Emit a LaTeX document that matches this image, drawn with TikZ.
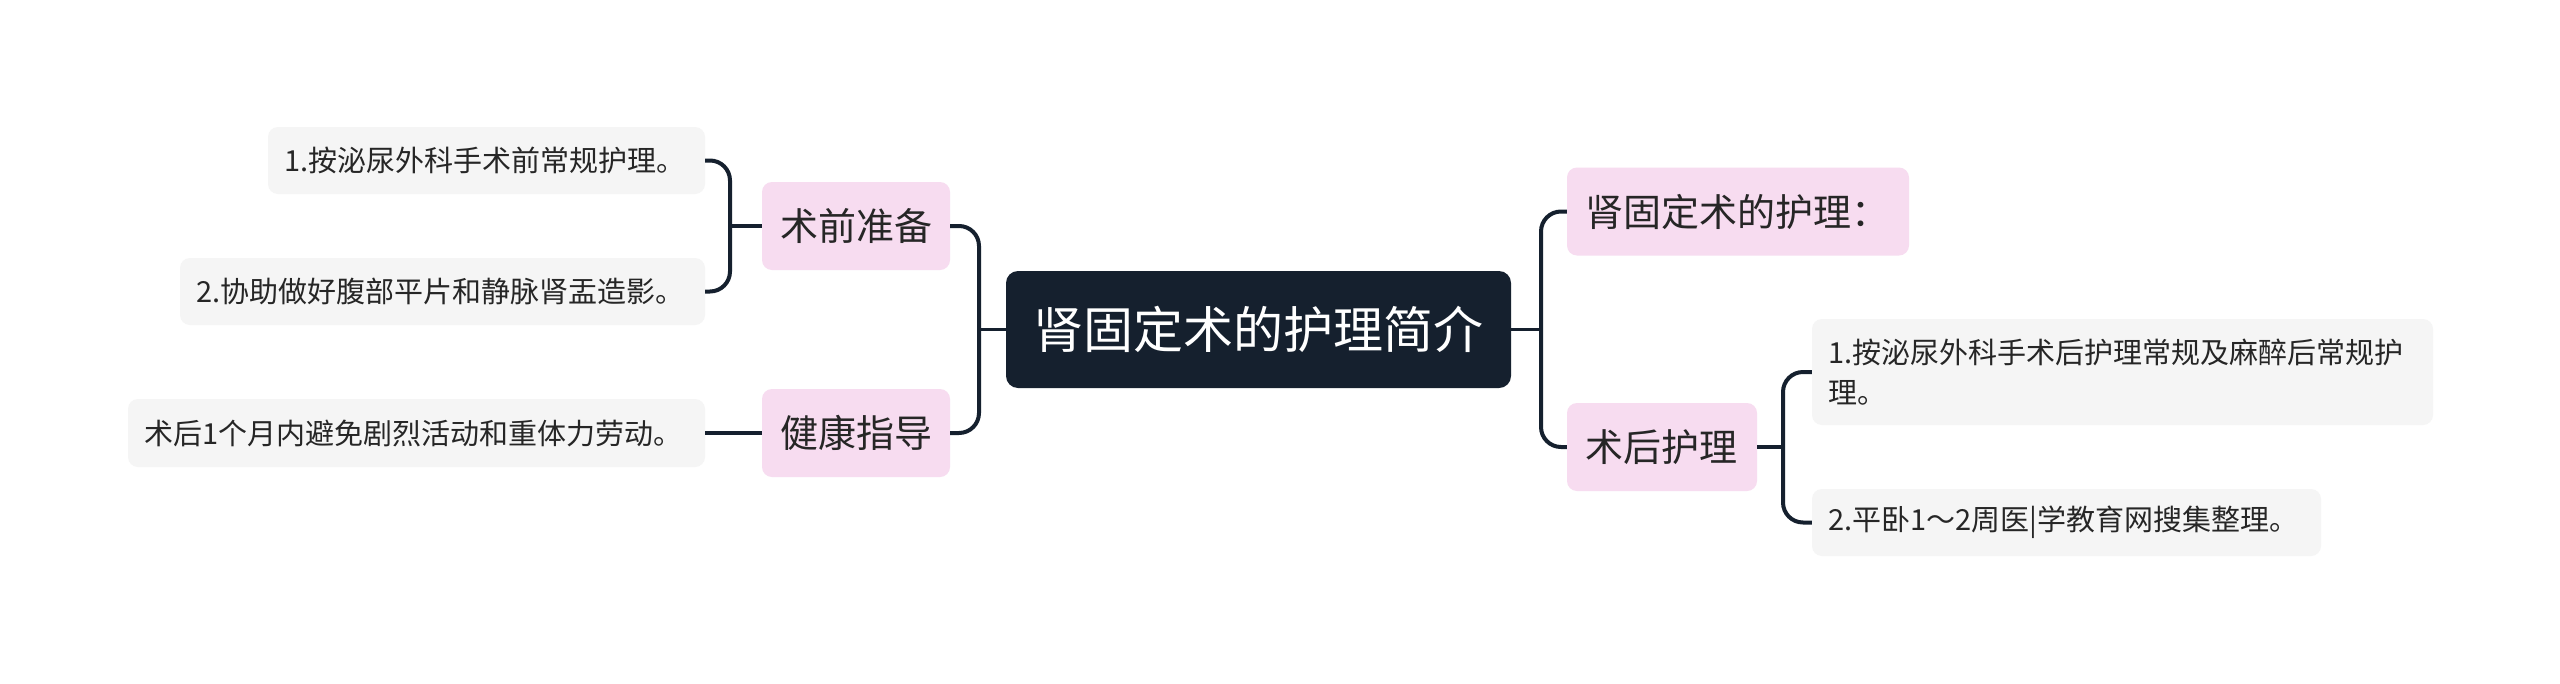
\documentclass[tikz,border=0pt]{standalone}
\usepackage{fontspec}
\setmainfont{Noto Sans CJK SC}
\definecolor{navy}{HTML}{15202E}
\definecolor{pinkbox}{HTML}{F7DCF0}
\definecolor{leafgray}{HTML}{F5F5F5}
\definecolor{txt}{HTML}{262626}
\begin{document}
\begin{tikzpicture}[x=1pt,y=-1pt,
  rootbox/.style={fill=navy, rounded corners=12pt, text=white, inner xsep=0pt, inner ysep=0pt,
    minimum width=505pt, minimum height=117pt, font=\fontsize{50}{60}\selectfont, align=center},
  branchbox/.style={fill=pinkbox, rounded corners=10pt, text=txt, inner xsep=18pt, inner ysep=0pt,
    minimum height=88pt, font=\fontsize{38}{46}\selectfont, align=left},
  leafbox/.style={fill=leafgray, rounded corners=10pt, text=txt, inner xsep=16pt, inner ysep=0pt,
    minimum height=67pt, font=\fontsize{29}{40}\selectfont, align=left},
  conn/.style={draw=navy, line width=4pt, rounded corners=20pt},
  rootconn/.style={draw=navy, line width=3.5pt}
]
\useasboundingbox (0,0) rectangle (2560,683);
\fill[white] (0,0) rectangle (2560,683);

% central node
\node[rootbox] (root) at (1258.5,329.5) {肾固定术的护理简介};

% left branches
\node[branchbox, text width=152pt] (pre) at (856,226) {术前准备};
\node[branchbox, text width=152pt] (health) at (856,433) {健康指导};

% right branches
\node[branchbox, text width=306pt] (title) at (1738,211.5) {肾固定术的护理：};
\node[branchbox, text width=154pt] (post) at (1662,447) {术后护理};

% leaves
\node[leafbox, text width=405pt] (leaf1) at (486.5,160.5) {1.按泌尿外科手术前常规护理。};
\node[leafbox, text width=493pt] (leaf2) at (442.5,291.5) {2.协助做好腹部平片和静脉肾盂造影。};
\node[leafbox, text width=545pt, minimum height=68pt] (leaf3) at (416.5,433) {术后1个月内避免剧烈活动和重体力劳动。};
\node[leafbox, text width=589pt, minimum height=106pt] (leaf4) at (2122.5,372) {1.按泌尿外科手术后护理常规及麻醉后常规护\\理。};
\node[leafbox, text width=477pt] (leaf5) at (2066.5,522.5) {2.平卧1～2周医|学教育网搜集整理。};

% junctions
\coordinate (jL) at (979,329.5);
\coordinate (jR) at (1541,329.5);
\coordinate (jA) at (730,226);
\coordinate (jB) at (1783,447);

% connectors
\draw[rootconn] (root.west) -- (jL);
\draw[conn] (pre.east) -| (jL) |- (health.east);
\draw[rootconn] (root.east) -- (jR);
\draw[conn] (title.west) -| (jR) |- (post.west);
\draw[conn] (leaf1.east) -| (jA) |- (leaf2.east);
\draw[conn] (pre.west) -- (jA);
\draw[conn] (health.west) -- (leaf3.east);
\draw[conn] (leaf4.west) -| (jB) |- (leaf5.west);
\draw[conn] (post.east) -- (jB);
\end{tikzpicture}
\end{document}
